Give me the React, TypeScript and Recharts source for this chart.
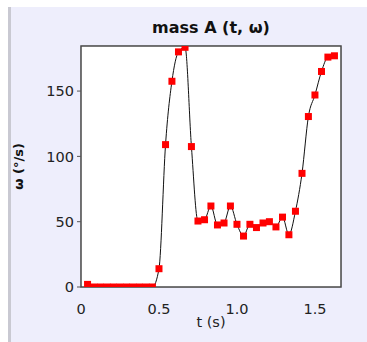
import {
  CartesianGrid,
  ComposedChart,
  Line,
  ReferenceArea,
  XAxis,
  YAxis,
} from "recharts";

// frame times (s) and angular velocity (°/s)
const times = [
  0.042, 0.083, 0.125, 0.167, 0.208, 0.25, 0.292, 0.333, 0.375, 0.417, 0.458,
  0.5, 0.542, 0.583, 0.625, 0.667, 0.708, 0.75, 0.792, 0.833, 0.875, 0.917,
  0.958, 1.0, 1.042, 1.083, 1.125, 1.167, 1.208, 1.25, 1.292, 1.333, 1.375,
  1.417, 1.458, 1.5, 1.542, 1.583, 1.625,
];
const omega = [
  2, 0, 0, 0, 0, 0, 0, 0, 0, 0, 0, 14, 109, 157.5, 180, 183.5, 107.5, 50.5,
  51.5, 62, 47.5, 49, 62, 48, 39, 48, 45.5, 49, 50, 46, 53.5, 40, 58, 87,
  130.5, 147, 165, 176, 177,
];
const xTicks = [0, 0.5, 1, 1.5];
const yTicks = [0, 50, 100, 150];
const xDomain = [0, 1.667];
const yDomain = [0, 184.5];

const data = times.map((t, i) => ({ t, w: omega[i] }));

const font = "'DejaVu Sans', Verdana, sans-serif";
const tickStyle = { fill: "#222", fontSize: 14.5, fontFamily: font };

function formatX(v: number) {
  return v === 0 ? "0" : v.toFixed(1);
}

function SquareDot({ cx, cy, index }: { cx?: number; cy?: number; index?: number }) {
  if (cx == null || cy == null) return null;
  return (
    <rect key={`d${index}`} x={cx - 3.5} y={cy - 3.5} width={7} height={7} fill="#ff0000" />
  );
}

export default function App() {
  return (
    <div
      style={{
        position: "absolute",
        left: 0,
        top: 0,
        width: 367,
        height: 342,
        background: "#ffffff",
        overflow: "hidden",
      }}
    >
      <div
        style={{
          position: "absolute",
          left: 8,
          top: 7,
          right: 0,
          bottom: 0,
          background: "#eeeefc",
          borderLeft: "3px solid #c9c9d2",
        }}
      />
      <div
        style={{
          position: "absolute",
          left: 81,
          width: 260,
          top: 18,
          textAlign: "center",
          fontFamily: font,
          fontWeight: "bold",
          fontSize: 16,
          color: "#111",
        }}
      >
        mass A (t, ω)
      </div>
      <div style={{ position: "absolute", left: 0, top: 0 }}>
        <ComposedChart
          width={367}
          height={342}
          data={data}
          margin={{ top: 46, right: 26, left: 0, bottom: 0 }}
        >
          <ReferenceArea
            x1={xDomain[0]}
            x2={xDomain[1]}
            y1={yDomain[0]}
            y2={yDomain[1]}
            fill="#ffffff"
            fillOpacity={1}
            stroke="none"
            ifOverflow="visible"
          />
          <CartesianGrid stroke="#c8c8c8" strokeWidth={1} />
          <XAxis
            dataKey="t"
            type="number"
            domain={xDomain}
            ticks={xTicks}
            tickFormatter={formatX}
            allowDataOverflow
            height={55}
            axisLine={false}
            tickLine={false}
            tickMargin={11}
            tick={tickStyle}
            label={{
              value: "t (s)",
              position: "insideBottom",
              offset: 15,
              style: { fill: "#222", fontSize: 14.5, fontFamily: font },
            }}
          />
          <XAxis
            xAxisId="top"
            dataKey="t"
            type="number"
            orientation="top"
            domain={xDomain}
            ticks={xTicks}
            allowDataOverflow
            height={0}
            mirror
            axisLine={false}
            tickSize={4}
            tickLine={{ stroke: "#555" }}
            tickFormatter={() => ""}
          />
          <YAxis
            type="number"
            domain={yDomain}
            ticks={yTicks}
            allowDataOverflow
            width={81}
            axisLine={false}
            tickSize={4}
            tickMargin={3}
            tickLine={{ stroke: "#555" }}
            tick={tickStyle}
            label={{
              value: "ω (°/s)",
              angle: -90,
              position: "insideLeft",
              offset: 18,
              style: {
                fill: "#111",
                fontSize: 13,
                fontWeight: "bold",
                fontFamily: font,
                textAnchor: "middle",
              },
            }}
          />
          <YAxis
            yAxisId="r"
            type="number"
            orientation="right"
            domain={yDomain}
            ticks={yTicks}
            allowDataOverflow
            width={0}
            mirror
            axisLine={false}
            tickSize={4}
            tickLine={{ stroke: "#555" }}
            tickFormatter={() => ""}
          />
          <ReferenceArea
            x1={xDomain[0]}
            x2={xDomain[1]}
            y1={yDomain[0]}
            y2={yDomain[1]}
            fill="none"
            stroke="#4a4a4a"
            strokeWidth={1.5}
            ifOverflow="visible"
          />
          <Line
            dataKey="w"
            stroke="none"
            dot={<SquareDot />}
            activeDot={false}
            isAnimationActive={false}
          />
          <Line
            dataKey="w"
            type="monotone"
            stroke="#111"
            strokeWidth={1}
            dot={false}
            activeDot={false}
            isAnimationActive={false}
          />
        </ComposedChart>
      </div>
    </div>
  );
}
